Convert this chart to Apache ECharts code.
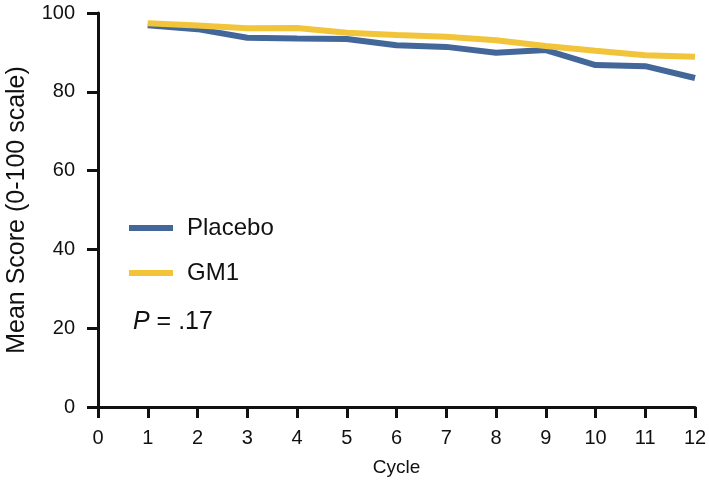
<!DOCTYPE html>
<html>
<head>
<meta charset="utf-8">
<script src="https://cdn.jsdelivr.net/npm/echarts@6/dist/echarts.min.js"></script>
<style>
  html, body { margin: 0; padding: 0; background: #fff; }
  #chart { width: 709px; height: 482px; }
</style>
</head>
<body>
<div id="chart"></div>
<script>
const cycles = [1, 2, 3, 4, 5, 6, 7, 8, 9, 10, 11, 12];
const placebo = [96.9, 95.9, 93.7, 93.5, 93.4, 91.8, 91.4, 89.9, 90.6, 86.8, 86.5, 83.5];
const gm1 = [97.4, 96.8, 96.1, 96.2, 95.0, 94.4, 94.0, 93.1, 91.6, 90.4, 89.3, 88.9];
const seriesNames = ["Placebo", "GM1"];
const pValue = ".17";

const blue = "#44679a";
const yellow = "#f2c43a";
const font = "Liberation Sans, Arial, sans-serif";

const chart = echarts.init(document.getElementById("chart"));

chart.setOption({
  animation: false,
  backgroundColor: "#fff",
  grid: { left: 98, right: 14, top: 13, bottom: 75, outerBoundsMode: "none" },
  legend: {
    data: seriesNames,
    orient: "vertical",
    left: 124,
    top: 211,
    icon: "rect",
    itemWidth: 44,
    itemHeight: 6,
    itemGap: 21,
    textStyle: { fontFamily: font, fontSize: 24, color: "#111", padding: [0, 0, 0, 9] },
  },
  xAxis: {
    type: "value",
    min: 0,
    max: 12,
    interval: 1,
    name: "Cycle",
    nameLocation: "middle",
    nameGap: 51,
    nameTextStyle: { fontFamily: font, fontSize: 19, color: "#111" },
    axisLine: { lineStyle: { color: "#111", width: 3 } },
    axisTick: { length: 11, lineStyle: { color: "#111", width: 3 } },
    axisLabel: { fontFamily: font, fontSize: 20, color: "#111", margin: 21 },
    splitLine: { show: false },
  },
  yAxis: {
    type: "value",
    min: 0,
    max: 100,
    interval: 20,
    name: "Mean Score (0-100 scale)",
    nameLocation: "middle",
    nameGap: 68,
    nameTextStyle: { fontFamily: font, fontSize: 25, color: "#111" },
    axisLine: { show: true, lineStyle: { color: "#111", width: 3 } },
    axisTick: { show: true, length: 11, lineStyle: { color: "#111", width: 3 } },
    axisLabel: { fontFamily: font, fontSize: 20, color: "#111", margin: 23 },
    splitLine: { show: false },
  },
  graphic: [
    {
      type: "text",
      left: 133,
      top: 310,
      style: {
        text: "{i|P} = " + pValue,
        fontFamily: font,
        fontSize: 25,
        fill: "#111",
        rich: { i: { fontStyle: "italic", fontFamily: font, fontSize: 25, fill: "#111" } },
      },
    },
  ],
  series: [
    {
      name: seriesNames[0],
      type: "line",
      data: cycles.map((c, i) => [c, placebo[i]]),
      showSymbol: false,
      lineStyle: { color: blue, width: 6 },
      itemStyle: { color: blue },
      z: 2,
    },
    {
      name: seriesNames[1],
      type: "line",
      data: cycles.map((c, i) => [c, gm1[i]]),
      showSymbol: false,
      lineStyle: { color: yellow, width: 6 },
      itemStyle: { color: yellow },
      z: 3,
    },
  ],
});
</script>
</body>
</html>
